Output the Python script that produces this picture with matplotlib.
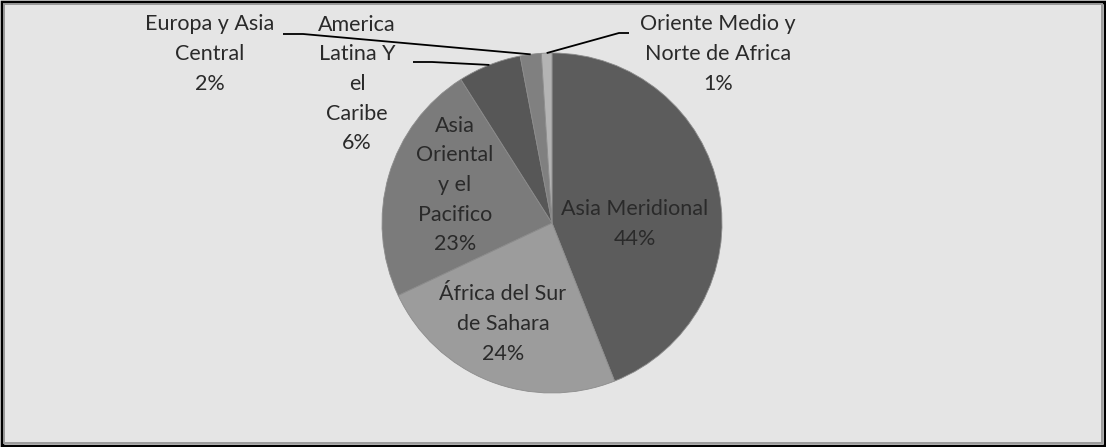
import matplotlib
matplotlib.use("Agg")
import matplotlib.pyplot as plt
from matplotlib import patches
import numpy as np

# data
regions = ["Asia Meridional", "África del Sur\nde Sahara", "Asia\nOriental\ny el\nPacifico",
           "America\nLatina Y\nel\nCaribe", "Europa y Asia\nCentral", "Oriente Medio y\nNorte de Africa"]
shares = [44, 24, 23, 6, 2, 1]
colors = ["#5c5c5c", "#9c9c9c", "#7b7b7b", "#575757", "#808080", "#b4b4b4"]

W, H = 1106, 447
plt.rcParams['font.family'] = ['Lato', 'DejaVu Sans']
fig = plt.figure(figsize=(W / 100, H / 100), dpi=100)
fig.patch.set_facecolor("#e5e5e5")
ax = fig.add_axes([0, 0, 1, 1])

cx, cy, r = 552, H - 223, 170
wedges, _ = ax.pie(shares, colors=colors, startangle=90, counterclock=False,
                   center=(cx, cy), radius=r, frame=True,
                   wedgeprops=dict(edgecolor="#8c8c8c", linewidth=0.6))
ax.set_xlim(0, W)
ax.set_ylim(0, H)
ax.set_aspect("equal")
ax.axis("off")

txt = dict(ha="center", va="center", fontsize=15.5, color="#2a2a2a", linespacing=1.6)

def lab(i):
    return f"{regions[i]}\n{shares[i]}%"

# labels inside
ax.text(635, H - 224, lab(0), **txt)
ax.text(503, H - 324, lab(1), **txt)
ax.text(455, H - 185, lab(2), **txt)
# labels outside
ax.text(357, H - 84, lab(3), **txt)
ax.text(210, H - 54, lab(4), **txt)
ax.text(718, H - 54, lab(5), **txt)

# leader lines: from elbow to wedge mid-point on the rim
def rim(w):
    a = np.deg2rad((w.theta1 + w.theta2) / 2)
    return cx + r * np.cos(a), cy + r * np.sin(a)

elbows = {3: [(413, H - 62), (432, H - 62)],
          4: [(283, H - 34), (303, H - 34)],
          5: [(629, H - 33), (619, H - 33)]}
for i, pts in elbows.items():
    ex, ey = rim(wedges[i])
    xs = [p[0] for p in pts] + [ex]
    ys = [p[1] for p in pts] + [ey]
    ax.plot(xs, ys, color="black", lw=1.3, solid_capstyle="butt")

# frame
fig.patches.append(patches.Rectangle((1.5 / W, 1.5 / H), 1 - 3 / W, 1 - 3 / H, transform=fig.transFigure,
                                     fill=False, edgecolor="black", lw=2.5))
fig.patches.append(patches.Rectangle((4 / W, 4.5 / H), 1 - 8 / W, 1 - 8.5 / H, transform=fig.transFigure,
                                     fill=False, edgecolor="#9a9a9a", lw=1.4))

fig.savefig("out.png", dpi=100, facecolor=fig.get_facecolor())
